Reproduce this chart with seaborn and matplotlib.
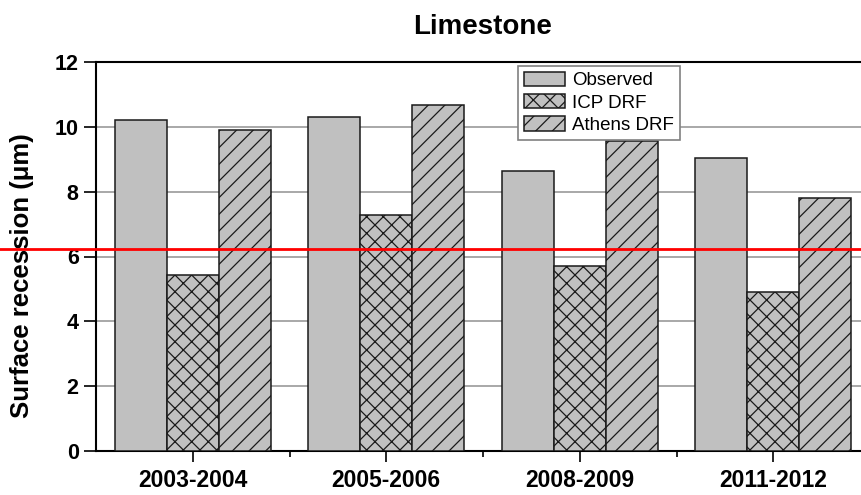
import matplotlib
matplotlib.use("Agg")
import matplotlib.pyplot as plt
import seaborn as sns
import pandas as pd
from matplotlib.patches import Patch

periods = ["2003-2004", "2005-2006", "2008-2009", "2011-2012"]
series = ["Observed", "ICP DRF", "Athens DRF"]
observed = [10.2, 10.3, 8.65, 9.05]
icp_drf = [5.42, 7.27, 5.7, 4.92]
athens_drf = [9.9, 10.67, 9.55, 7.8]
threshold = 6.23
yticks = [0, 2, 4, 6, 8, 10, 12]

df = pd.DataFrame({
    "period": periods * 3,
    "series": [series[0]] * 4 + [series[1]] * 4 + [series[2]] * 4,
    "value": observed + icp_drf + athens_drf,
})

sns.set_style("white")
plt.rcParams["font.family"] = ["Liberation Sans", "DejaVu Sans"]
plt.rcParams["hatch.linewidth"] = 0.9
plt.rcParams["hatch.color"] = "#2a2a2a"
for k in ["text.color", "axes.labelcolor", "xtick.color", "ytick.color"]:
    plt.rcParams[k] = "black"

fig = plt.figure(figsize=(8.61, 4.95), dpi=100)
ax = fig.add_axes([96 / 861, 1 - 451 / 495, 774 / 861, 389 / 495])

fill = "#c0c0c0"
sns.barplot(data=df, x="period", y="value", hue="series", order=periods,
            hue_order=series, palette=[fill] * 3, saturation=1,
            edgecolor="#1a1a1a", linewidth=1.1, width=0.804, gap=0,
            legend=False, ax=ax, zorder=3)

hatches = ["", "xx", "//"]
for cont, h in zip(ax.containers, hatches):
    for bar in cont:
        bar.set_hatch(h)

ax.set_xlim(-0.5, 3.5)
ax.set_ylim(0, 12)
ax.set_yticks(yticks)
ax.set_yticklabels([str(v) for v in yticks], fontsize=15.5, fontweight="bold",
                   color="black")
ax.set_xticks(range(len(periods)))
ax.set_xticklabels(periods, fontsize=16.5, fontweight="bold", color="black")
ax.set_xticks([0.5, 1.5, 2.5], minor=True)
ax.tick_params(axis="y", which="major", direction="out", length=8.5, width=1.2,
               left=True, pad=4, colors="black")
ax.tick_params(axis="x", which="major", direction="out", length=8, width=1.2,
               bottom=True, pad=5, colors="black")
ax.tick_params(axis="x", which="minor", direction="out", length=4, width=1.2,
               bottom=True, colors="black")

ax.yaxis.grid(True, color="#9a9a9a", linewidth=1.2, zorder=0)
ax.xaxis.grid(False)
ax.set_axisbelow(True)
for s in ["left", "bottom", "top", "right"]:
    ax.spines[s].set_visible(True)
    ax.spines[s].set_color("black")
    ax.spines[s].set_linewidth(1.5)

ax.set_xlabel("")
ax.set_ylabel("Surface recession (μm)", fontsize=18.5, fontweight="bold",
              color="black")
ax.yaxis.set_label_coords(-0.080, 0.452)
ax.set_title("Limestone", fontsize=20, fontweight="bold", pad=20, color="black")

ax.axhline(threshold, xmin=-0.2, xmax=1.0, color="#ff0000", linewidth=2,
           clip_on=False, zorder=10)

handles = [Patch(facecolor=fill, edgecolor="#1a1a1a", hatch=h, linewidth=1.1)
           for h in hatches]
leg = ax.legend(handles, series, loc="upper left",
                bbox_to_anchor=(518 / 861, 1 - 66 / 495),
                bbox_transform=fig.transFigure, borderaxespad=0,
                fontsize=13.5, frameon=True, fancybox=False, framealpha=1,
                edgecolor="#808080", handlelength=2.2, handleheight=0.8,
                labelspacing=0.25, handletextpad=0.4, borderpad=0.3)
leg.get_frame().set_linewidth(1.2)
for t in leg.get_texts():
    t.set_color("black")
leg.set_zorder(11)

fig.savefig("out.png", dpi=100)
